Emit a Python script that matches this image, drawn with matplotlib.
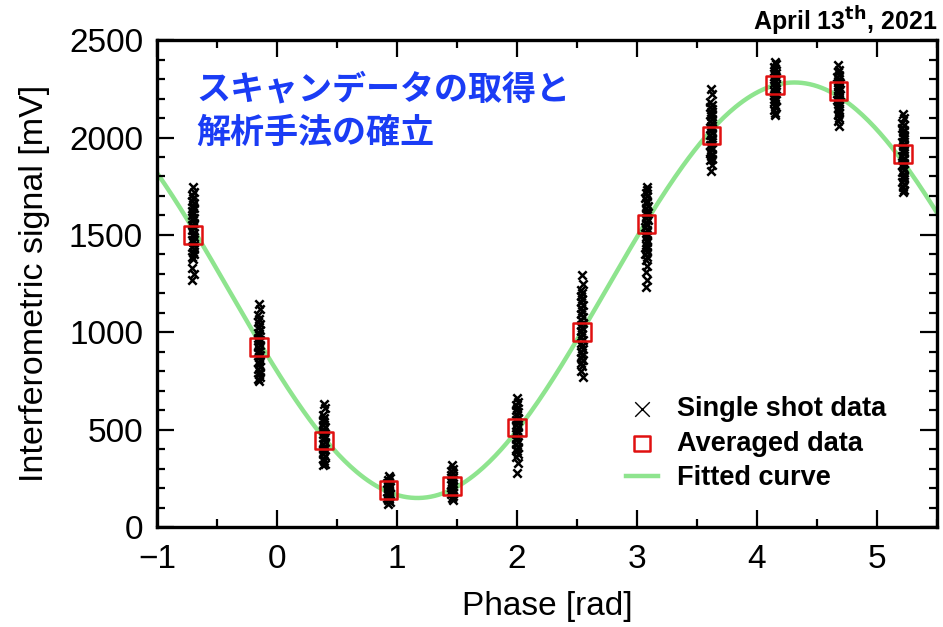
import numpy as np
import matplotlib
matplotlib.use('Agg')
import matplotlib.pyplot as plt
from matplotlib.ticker import MultipleLocator

# --- data ---
phase_steps = [-0.70, -0.15, 0.39, 0.93, 1.46, 2.00, 2.54, 3.08, 3.62, 4.15, 4.68, 5.22]
averaged = [1500, 925, 445, 190, 210, 510, 1000, 1555, 2010, 2270, 2240, 1915]

single_shots = [
    [1745, 1722, 1705, 1690, 1676, 1662, 1650, 1638, 1625, 1612, 1600, 1588, 1575, 1562,
     1550, 1538, 1525, 1512, 1500, 1488, 1475, 1462, 1450, 1438, 1425, 1412, 1400, 1388,
     1375, 1330, 1300, 1270],
    [1145, 1120, 1090, 1070, 1055, 1040, 1025, 1010, 998, 985, 972, 960, 948, 935, 922,
     910, 898, 885, 872, 860, 848, 835, 822, 810, 798, 785, 772, 760, 748],
    [630, 610, 575, 562, 550, 538, 525, 512, 500, 488, 475, 462, 450, 438, 425, 412, 400,
     388, 375, 362, 350, 338, 325, 318],
    [262, 250, 240, 232, 225, 218, 212, 205, 198, 192, 186, 180, 174, 168, 162, 156, 150,
     144, 138, 130, 118],
    [318, 300, 288, 276, 266, 256, 248, 240, 232, 224, 216, 208, 200, 192, 184, 176, 168,
     160, 150, 140],
    [660, 640, 625, 612, 600, 588, 575, 562, 550, 538, 525, 512, 500, 488, 475, 462, 450,
     438, 425, 412, 400, 388, 375, 360, 330, 277],
    [1292, 1250, 1215, 1200, 1185, 1170, 1155, 1140, 1125, 1110, 1095, 1080, 1065, 1050,
     1035, 1020, 1005, 990, 975, 960, 945, 930, 915, 900, 885, 870, 855, 840, 825, 800, 770],
    [1744, 1730, 1715, 1700, 1688, 1675, 1662, 1650, 1638, 1625, 1612, 1600, 1588, 1575,
     1562, 1550, 1538, 1525, 1512, 1500, 1488, 1475, 1462, 1450, 1438, 1425, 1412, 1400,
     1385, 1370, 1340, 1310, 1270, 1230],
    [2250, 2225, 2180, 2168, 2156, 2144, 2132, 2120, 2108, 2096, 2084, 2072, 2060, 2048,
     2036, 2024, 2012, 2000, 1988, 1976, 1964, 1952, 1940, 1928, 1916, 1904, 1892, 1882,
     1860, 1830],
    [2390, 2375, 2362, 2350, 2340, 2330, 2320, 2310, 2300, 2290, 2280, 2270, 2260, 2250,
     2240, 2230, 2220, 2210, 2200, 2190, 2180, 2168, 2155, 2140, 2125, 2113],
    [2370, 2348, 2335, 2322, 2310, 2300, 2290, 2280, 2270, 2260, 2250, 2240, 2230, 2220,
     2210, 2200, 2190, 2180, 2170, 2160, 2150, 2140, 2128, 2115, 2100, 2085, 2061],
    [2123, 2100, 2075, 2062, 2050, 2038, 2026, 2014, 2002, 1990, 1978, 1966, 1954, 1942,
     1930, 1918, 1906, 1894, 1882, 1870, 1858, 1846, 1834, 1822, 1810, 1798, 1786, 1774,
     1760, 1745, 1730, 1718],
]
# small horizontal spread of the shots around each phase step
shot_jitter = [0.000, 0.008, -0.007, 0.004, -0.009, 0.006, -0.003, 0.009, -0.005, 0.002,
               -0.008, 0.007, -0.002, 0.009, -0.006, 0.003, -0.009, 0.005, -0.004, 0.008,
               -0.007, 0.001, 0.008, -0.007, 0.005, -0.003, 0.007, -0.009, 0.004, -0.005,
               0.008, -0.006, 0.002, -0.008]

# --- least squares fit: a + b*cos(phi) + c*sin(phi) ---
ph = np.array(phase_steps)
design = np.column_stack([np.ones_like(ph), np.cos(ph), np.sin(ph)])
coef, *_ = np.linalg.lstsq(design, np.array(averaged, dtype=float), rcond=None)
phi_fit = np.linspace(-1, 5.5, 400)
sig_fit = coef[0] + coef[1] * np.cos(phi_fit) + coef[2] * np.sin(phi_fit)

# --- plot ---
plt.rcParams['font.family'] = ['Liberation Sans', 'DejaVu Sans']
fig = plt.figure(figsize=(9.43, 6.27), dpi=100)
ax = fig.add_axes([0.1665, 0.1595, 0.827, 0.7765])

green = '#8ee48e'
red = '#e01010'

ax.plot(phi_fit, sig_fit, color=green, lw=3.2, zorder=1)

for x0, shots in zip(phase_steps, single_shots):
    xs = [x0 + shot_jitter[i % len(shot_jitter)] for i in range(len(shots))]
    ax.scatter(xs, shots, marker='x', s=36, color='black', linewidths=1.8, zorder=2)

ax.scatter(phase_steps, averaged, marker='s', s=160, facecolors='none',
           edgecolors=red, linewidths=1.8, zorder=3)

ax.set_xlim(-1, 5.5)
ax.set_ylim(0, 2500)
ax.xaxis.set_major_locator(MultipleLocator(1))
ax.xaxis.set_minor_locator(MultipleLocator(0.5))
ax.yaxis.set_major_locator(MultipleLocator(500))
ax.yaxis.set_minor_locator(MultipleLocator(100))
ax.tick_params(which='both', direction='in', top=True, right=True, width=1.6,
               labelsize=24)
ax.tick_params(axis='y', pad=10)
ax.tick_params(axis='x', pad=12)
ax.tick_params(which='major', length=12)
ax.tick_params(which='minor', length=6)
for sp in ax.spines.values():
    sp.set_linewidth(2.4)

ax.set_xlabel('Phase [rad]', fontsize=24, labelpad=12)
ax.set_ylabel('Interferometric signal [mV]', fontsize=24.5, labelpad=14)

# legend built from proxy handles
h1 = ax.scatter([], [], marker='x', s=110, color='black', linewidths=1.0)
h2 = ax.scatter([], [], marker='s', s=130, facecolors='none', edgecolors=red, linewidths=1.8)
h3, = ax.plot([], [], color=green, lw=3.2)
ax.legend([h1, h2, h3], ['Single shot data', 'Averaged data', 'Fitted curve'],
          loc='upper left', bbox_to_anchor=(0.584, 0.297), frameon=False, borderpad=0,
          prop={'family': 'Liberation Sans', 'weight': 'bold', 'size': 19.5},
          handlelength=1.2, handletextpad=0.7, labelspacing=0.32)

ax.text(0.051, 0.936, 'スキャンデータの取得と\n解析手法の確立', transform=ax.transAxes,
        ha='left', va='top', fontsize=24.5, fontweight='bold', color='#1a3cf5',
        family=['Noto Sans CJK JP'], linespacing=1.3)

fig.text(0.994, 0.952, 'April 13$^{\\mathbf{th}}$, 2021', ha='right', va='baseline',
         fontsize=18, fontweight='bold', family='Liberation Sans')

fig.savefig('out.png', dpi=100)
